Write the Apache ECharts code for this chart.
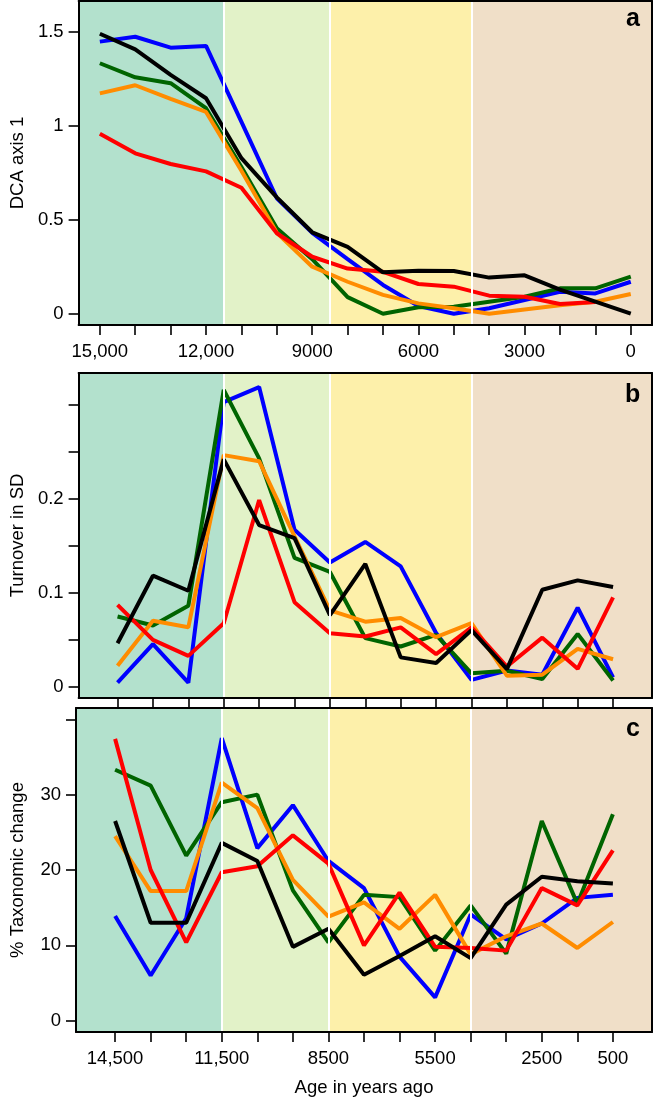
<!DOCTYPE html>
<html><head><meta charset="utf-8">
<script src="https://cdn.jsdelivr.net/npm/echarts@6/dist/echarts.min.js"></script>
<style>html,body{margin:0;padding:0;background:#fff}#c{width:654px;height:1099px}</style>
</head><body><div id="c"></div>
<script>
// ---- data ----
const agesA = [15000,14000,13000,12000,11000,10000,9000,8000,7000,6000,5000,4000,3000,2000,1000,0];
const agesBC = [14500,13500,12500,11500,10500,9500,8500,7500,6500,5500,4500,3500,2500,1500,500];

const blueA   = [1.447,1.473,1.415,1.424,1.02,0.614,0.43,0.29,0.153,0.041,0.0,0.029,0.073,0.117,0.108,0.17];
const greenA  = [1.332,1.257,1.226,1.093,0.78,0.454,0.29,0.088,0.0,0.034,0.037,0.064,0.09,0.135,0.135,0.197];
const orangeA = [1.172,1.215,1.142,1.073,0.76,0.43,0.25,0.17,0.10,0.055,0.029,0.0,0.023,0.045,0.064,0.105];
const redA    = [0.957,0.853,0.796,0.757,0.67,0.428,0.303,0.24,0.223,0.158,0.144,0.096,0.09,0.052,0.062,null];
const blackA  = [1.489,1.406,1.27,1.146,0.827,0.619,0.433,0.355,0.220,0.229,0.227,0.192,0.204,0.128,0.064,0.0];

const blueB   = [0.004,0.045,0.004,0.303,0.319,0.167,0.132,0.154,0.128,0.057,0.007,0.017,0.0125,0.084,0.0096];
const greenB  = [0.0745,0.065,0.086,0.316,0.243,0.137,0.122,0.0515,0.0426,0.055,0.014,0.0167,0.008,0.056,0.0064];
const orangeB = [0.022,0.070,0.063,0.2465,0.240,0.16,0.081,0.069,0.073,0.0525,0.0674,0.0114,0.0125,0.040,0.029];
const redB    = [0.087,0.0497,0.0326,0.0674,0.1986,0.0898,0.0568,0.0532,0.063,0.0345,0.063,0.0213,0.052,0.0188,0.095];
const blackB  = [0.046,0.118,0.102,0.242,0.172,0.158,0.076,0.1305,0.031,0.025,0.060,0.0185,0.103,0.113,0.106];

const blueC   = [13.9,6.0,13.6,37.5,22.9,28.6,21.2,17.6,8.5,3.1,14.1,10.8,12.9,16.3,16.7];
const greenC  = [33.3,31.2,21.9,29.0,30.0,17.3,10.4,16.7,16.4,9.3,15.3,8.9,26.5,15.5,27.4];
const orangeC = [24.5,17.2,17.2,31.6,28.2,18.7,13.8,15.7,12.2,16.7,8.8,11.2,12.9,9.65,13.1];
const redC    = [37.4,20.0,10.4,19.7,20.5,24.6,20.85,10.0,17.0,9.8,9.65,9.3,17.6,15.3,22.6];
const blackC  = [26.5,13.0,13.0,23.6,21.2,9.8,12.2,6.1,8.6,11.2,8.3,15.4,19.1,18.5,18.2];

// axis ticks / labels
const xTicksA  = [15000,14000,13000,12000,11000,10000,9000,8000,7000,6000,5000,4000,3000,2000,1000,0];
const xLabelsA = [15000,12000,9000,6000,3000,0];
const xTicksBC = [14500,13500,12500,11500,10500,9500,8500,7500,6500,5500,4500,3500,2500,1500,500];
const xLabelsC = [14500,11500,8500,5500,2500,500];
const yTicksA  = [0,0.5,1,1.5];
const yLabelsA = [0,0.5,1,1.5];
const yTicksB  = [0,0.05,0.1,0.15,0.2,0.25,0.3];
const yLabelsB = [0,0.1,0.2];
const yTicksC  = [0,10,20,30,40];
const yLabelsC = [0,10,20,30];

// period bands (years ago)
const bandBreaks = [11500, 8500, 4500];
const bandColors = ['#b3e1cd', '#e2f2c8', '#fdf0aa', '#f0dfc8'];
const xMin = -600, xMax = 15600;

const seriesColors = {blue:'#0000ff', green:'#006400', orange:'#ff8c00', red:'#ff0000', black:'#000000'};

// ---- chart ----
const FONT = 'Liberation Sans, Arial, Helvetica, sans-serif';
const FS = 18.5;
const grids = [
  {left: 75, right: 2, top: 1, height: 324},
  {left: 75, right: 2, top: 373, height: 325},
  {left: 75, right: 2, top: 708, height: 324}
];
const yRanges = [[-0.06, 1.663], [-0.0123, 0.334], [-1.5, 41.5]];
const yNames = ['DCA axis 1', 'Turnover in SD', '% Taxonomic change'];
const yTicks = [yTicksA, yTicksB, yTicksC];
const yLabels = [yLabelsA, yLabelsB, yLabelsC];
const xTicks = [xTicksA, xTicksBC, xTicksBC];
const xLabels = [xLabelsA, null, xLabelsC];

function fmtX(v){ return v >= 10000 ? (Math.floor(v/1000) + ',' + String(v%1000).padStart(3,'0')) : String(v); }

const xAxes = [], yAxes = [];
for (let i = 0; i < 3; i++) {
  xAxes.push({
    gridIndex: i, type: 'value', min: xMin, max: xMax, inverse: true, position: 'bottom', z: 10,
    axisLine: {show: true, onZero: false, lineStyle: {color: '#000', width: 2}},
    axisTick: {show: true, length: 10, customValues: xTicks[i], lineStyle: {color: '#000', width: 1.6}},
    axisLabel: xLabels[i] ? {show: true, customValues: xLabels[i], formatter: fmtX, margin: 17, color: '#000', fontSize: FS, fontFamily: FONT} : {show: false},
    splitLine: {show: false},
    name: i === 2 ? 'Age in years ago' : '',
    nameLocation: 'middle', nameGap: 46,
    nameTextStyle: {color: '#000', fontSize: FS, fontFamily: FONT}
  });
  xAxes.push({
    gridIndex: i, type: 'value', min: xMin, max: xMax, inverse: true, position: 'top', z: 10,
    axisLine: {show: true, onZero: false, lineStyle: {color: '#000', width: 2}},
    axisTick: {show: false}, axisLabel: {show: false}, splitLine: {show: false}
  });
  yAxes.push({
    gridIndex: i, type: 'value', min: yRanges[i][0], max: yRanges[i][1], position: 'left', z: 10,
    axisLine: {show: true, onZero: false, lineStyle: {color: '#000', width: 2}},
    axisTick: {show: true, length: 10, customValues: yTicks[i], lineStyle: {color: '#000', width: 1.6}},
    axisLabel: {show: true, customValues: yLabels[i], formatter: v => String(v), margin: 15, color: '#000', fontSize: FS, fontFamily: FONT},
    splitLine: {show: false},
    name: yNames[i], nameLocation: 'middle', nameGap: 49, nameRotate: 90,
    nameTextStyle: {color: '#000', fontSize: FS, fontFamily: FONT}
  });
  yAxes.push({
    gridIndex: i, type: 'value', min: yRanges[i][0], max: yRanges[i][1], position: 'right', z: 10,
    axisLine: {show: true, onZero: false, lineStyle: {color: '#000', width: 2}},
    axisTick: {show: false}, axisLabel: {show: false}, splitLine: {show: false}
  });
}

const edges = [xMax].concat(bandBreaks, [xMin]);
function bandSeries(i) {
  const areas = [];
  for (let k = 0; k < bandColors.length; k++) {
    areas.push([{xAxis: edges[k], itemStyle: {color: bandColors[k]}}, {xAxis: edges[k+1]}]);
  }
  return {
    type: 'line', xAxisIndex: 2*i, yAxisIndex: 2*i, data: [], z: 1, silent: true,
    markArea: {silent: true, itemStyle: {opacity: 1}, label: {show: false}, data: areas},
    markLine: {silent: true, symbol: ['none','none'], label: {show: false},
      lineStyle: {color: '#ffffff', width: 2, type: 'solid'},
      data: bandBreaks.map(b => ({xAxis: b}))}
  };
}
function lineSeries(i, ages, vals, color) {
  return {
    type: 'line', xAxisIndex: 2*i, yAxisIndex: 2*i, z: 3, symbol: 'none', silent: true,
    connectNulls: false,
    lineStyle: {color: color, width: 4},
    data: ages.map((a, k) => [a, vals[k]]).filter(p => p[1] !== null && p[1] !== undefined)
  };
}
const panels = [
  [agesA, blueA, greenA, orangeA, redA, blackA],
  [agesBC, blueB, greenB, orangeB, redB, blackB],
  [agesBC, blueC, greenC, orangeC, redC, blackC]
];
const series = [];
panels.forEach((p, i) => {
  series.push(bandSeries(i));
  const cols = [seriesColors.blue, seriesColors.green, seriesColors.orange, seriesColors.red, seriesColors.black];
  for (let k = 0; k < 5; k++) series.push(lineSeries(i, p[0], p[k+1], cols[k]));
});

const chart = echarts.init(document.getElementById('c'), null, {renderer: 'canvas'});
chart.setOption({
  animation: false,
  backgroundColor: '#ffffff',
  grid: grids,
  xAxis: xAxes,
  yAxis: yAxes,
  series: series,
  graphic: [
    {type: 'text', left: 626, top: 7, z: 20, style: {text: 'a', font: 'bold 25px ' + FONT, fill: '#000'}},
    {type: 'text', left: 625, top: 383, z: 20, style: {text: 'b', font: 'bold 25px ' + FONT, fill: '#000'}},
    {type: 'text', left: 626, top: 717, z: 20, style: {text: 'c', font: 'bold 25px ' + FONT, fill: '#000'}}
  ]
});
</script>
</body></html>
